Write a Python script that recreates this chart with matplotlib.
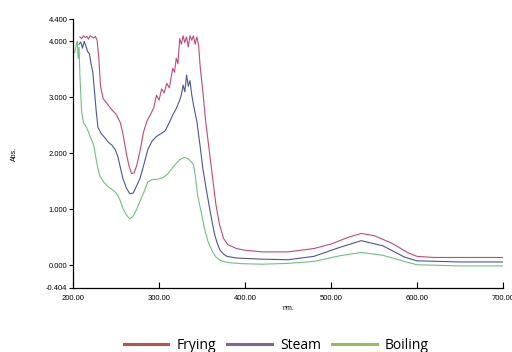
import numpy as np
import matplotlib.pyplot as plt
from matplotlib.lines import Line2D

# wavelength (nm) / absorbance
fry_nm = [208, 210, 212, 214, 216, 218, 220, 222, 224, 226, 228, 230, 232, 235, 240, 245, 250, 255,
          258, 262, 265, 268, 271, 274, 278, 282, 286, 290, 294, 297, 300, 303, 306, 309, 312, 314, 316,
          318, 320, 322, 324, 326, 328, 330, 332, 334, 336, 338, 340, 342, 344, 346, 348, 351, 354,
          358, 362, 366, 370, 375, 380, 390, 400, 420, 450, 480, 500, 520, 535, 550, 570, 590, 600,
          620, 650, 700]
fry_abs = [4.08, 4.05, 4.10, 4.07, 4.09, 4.04, 4.10, 4.08, 4.06, 4.09, 4.02, 3.70, 3.20, 2.98, 2.88,
           2.78, 2.70, 2.55, 2.35, 2.00, 1.78, 1.64, 1.65, 1.78, 2.05, 2.38, 2.58, 2.69, 2.82, 3.04, 2.95,
           3.15, 3.08, 3.25, 3.17, 3.35, 3.52, 3.45, 3.70, 3.60, 4.05, 3.95, 4.10, 3.98, 4.08, 3.90,
           4.10, 4.02, 4.10, 3.95, 4.08, 3.93, 3.52, 3.10, 2.60, 2.10, 1.60, 1.10, 0.75, 0.48, 0.37,
           0.30, 0.27, 0.24, 0.24, 0.30, 0.38, 0.50, 0.57, 0.53, 0.40, 0.22, 0.16, 0.14, 0.14, 0.14]

steam_nm = [207, 209, 211, 213, 215, 217, 219, 221, 223, 225, 227, 229, 233, 237, 241, 245, 249, 252,
            255, 258, 262, 266, 270, 274, 278, 282, 287, 292, 297, 302, 307, 312, 316, 320, 324, 326,
            328, 330, 332, 334, 336, 338, 340, 344, 348, 351, 355, 359, 362, 365, 368, 371, 375, 379,
            390, 420, 450, 480, 510, 535, 560, 585, 600, 650, 700]
steam_abs = [3.95, 3.99, 3.88, 4.00, 3.92, 3.82, 3.78, 3.60, 3.45, 3.10, 2.75, 2.46, 2.35, 2.28, 2.20,
             2.15, 2.07, 1.95, 1.75, 1.55, 1.38, 1.28, 1.29, 1.42, 1.56, 1.78, 2.07, 2.22, 2.30, 2.35,
             2.40, 2.55, 2.69, 2.80, 2.95, 3.05, 3.22, 3.10, 3.40, 3.20, 3.30, 3.05, 2.87, 2.57, 2.10,
             1.72, 1.35, 1.00, 0.75, 0.53, 0.38, 0.27, 0.20, 0.16, 0.13, 0.11, 0.10, 0.16, 0.32, 0.44,
             0.35, 0.15, 0.08, 0.06, 0.06]

boil_nm = [202, 204, 205, 206, 207, 208, 210, 212, 214, 217, 220, 224, 228, 231, 236, 241, 245, 249,
           252, 255, 258, 262, 266, 270, 274, 278, 283, 287, 292, 299, 305, 310, 316, 320, 324, 330,
           334, 338, 340, 342, 345, 349, 353, 357, 362, 366, 371, 377, 383, 395, 420, 450, 480, 510,
           535, 560, 590, 600, 650, 700]
boil_abs = [3.80, 3.95, 4.00, 3.70, 3.90, 3.40, 2.75, 2.55, 2.51, 2.42, 2.30, 2.15, 1.80, 1.60, 1.48,
            1.40, 1.36, 1.31, 1.25, 1.15, 1.02, 0.90, 0.83, 0.88, 1.00, 1.15, 1.33, 1.49, 1.53, 1.54,
            1.57, 1.63, 1.75, 1.82, 1.89, 1.93, 1.90, 1.84, 1.80, 1.62, 1.24, 0.95, 0.65, 0.42, 0.25,
            0.15, 0.09, 0.06, 0.045, 0.03, 0.02, 0.035, 0.07, 0.17, 0.23, 0.18, 0.05, 0.01, -0.01, -0.01]

names = ["Frying", "Steam", "Boiling"]
line_cols = ["#c9457c", "#4a55a0", "#6cc47c"]
legend_cols = ["#c0504d", "#8064a2", "#9bbb59"]

yticks = [-0.404, 0.0, 1.0, 2.0, 3.0, 4.0, 4.4]
xticks = [200, 300, 400, 500, 600, 700]

fig = plt.figure(figsize=(5.12, 3.52), dpi=100)
ax = fig.add_axes([0.1426, 0.182, 0.840, 0.764])

for x, y, c in zip([fry_nm, steam_nm, boil_nm], [fry_abs, steam_abs, boil_abs], line_cols):
    ax.plot(x, y, color=c, lw=0.8)

ax.set_xlim(200, 700)
ax.set_ylim(-0.404, 4.4)
ax.spines["top"].set_visible(False)
ax.spines["right"].set_visible(False)
ax.spines["left"].set_linewidth(0.9)
ax.spines["bottom"].set_linewidth(0.9)

ax.set_yticks(yticks)
ax.set_yticklabels(["%.3f" % v for v in yticks], fontsize=5.5, family="Liberation Sans")
ax.set_xticks(xticks)
ax.set_xticklabels(["%.2f" % v for v in xticks], fontsize=5.5, family="Liberation Sans")
ax.tick_params(axis="y", direction="out", length=3, width=0.8, pad=1)
ax.tick_params(axis="x", direction="in", length=4, width=0.8, pad=5)

ax.set_xlabel("nm.", fontsize=5, family="Liberation Sans", labelpad=2)
ax.set_ylabel("Abs.", fontsize=5, family="Liberation Sans", labelpad=20)

handles = [Line2D([0], [0], color=c, lw=2.2) for c in legend_cols]
fig.legend(handles, names, loc="center", bbox_to_anchor=(0.54, 0.018), ncol=3, frameon=False,
           handlelength=3.2, columnspacing=0.8, handletextpad=0.6,
           prop={"family": "Open Sans", "size": 10})

fig.savefig("out.png", dpi=100)
